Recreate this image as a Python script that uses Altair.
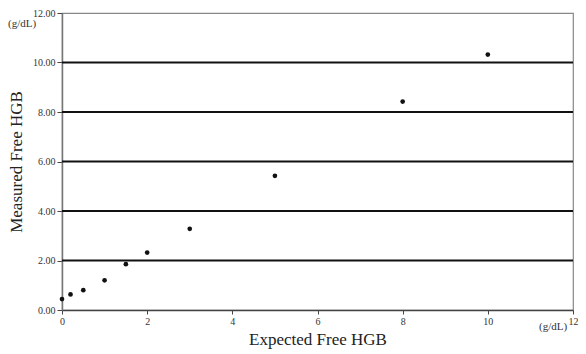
import altair as alt
import pandas as pd

expected = [0, 0.2, 0.5, 1, 1.5, 2, 3, 5, 8, 10]
measured = [0.44, 0.63, 0.8, 1.2, 1.85, 2.32, 3.28, 5.42, 8.42, 10.32]
grid_values = [2, 4, 6, 8, 10]
x_ticks = [0, 2, 4, 6, 8, 10, 12]
y_ticks = [0, 2, 4, 6, 8, 10, 12]

df = pd.DataFrame({"expected": expected, "measured": measured})
grid_df = pd.DataFrame({"g": grid_values})

FONT = "Liberation Serif"
W, H = 511, 297

xscale = alt.Scale(domain=[0, 12], nice=False)
yscale = alt.Scale(domain=[0, 12], nice=False)

y_axis = alt.Axis(
    values=y_ticks, format=".2f", title="Measured Free HGB",
    titleFont=FONT, titleFontSize=17, titleFontWeight="normal", titleColor="#222",
    titlePadding=7,
    labelFont=FONT, labelFontSize=10, labelColor="#333",
    domainColor="#777", domainWidth=1.5, tickColor="#444", tickSize=5,
    labelPadding=2, grid=False,
)

x_axis = alt.Axis(
    values=x_ticks, format="d", title="Expected Free HGB",
    titleFont=FONT, titleFontSize=17, titleFontWeight="normal", titleColor="#222",
    titlePadding=5,
    labelFont=FONT, labelFontSize=10, labelColor="#333",
    domainColor="#444", domainWidth=1.5, tickColor="#444", tickSize=4,
    labelPadding=2, grid=False, labelFlush=False,
)

grid = alt.Chart(grid_df).mark_rule(color="#111", strokeWidth=2).encode(
    y=alt.Y("g:Q", scale=yscale, axis=y_axis)
)

points = alt.Chart(df).mark_circle(color="#111", size=22, opacity=1).encode(
    x=alt.X("expected:Q", scale=xscale, axis=x_axis),
    y=alt.Y("measured:Q", scale=yscale, axis=y_axis),
)

unit_y = alt.Chart(pd.DataFrame({"t": ["(g/dL)"]})).mark_text(
    font=FONT, fontSize=11, color="#333", align="left", baseline="middle"
).encode(text="t:N", x=alt.value(-54), y=alt.value(11))

unit_x = alt.Chart(pd.DataFrame({"t": ["(g/dL)"]})).mark_text(
    font=FONT, fontSize=11, color="#333", align="left", baseline="middle"
).encode(text="t:N", x=alt.value(477), y=alt.value(314))

chart = alt.layer(grid, points, unit_y, unit_x).properties(
    width=W, height=H,
    autosize=alt.AutoSizeParams(type="none"),
    padding={"left": 54, "top": 5, "right": 5, "bottom": 40},
).configure_view(stroke="#888", strokeWidth=1.2)

chart.save("out.html", embed_options={"renderer": "svg", "actions": False})
